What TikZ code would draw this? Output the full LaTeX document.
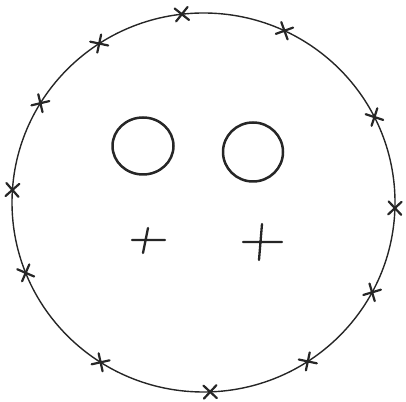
\documentclass[tikz,border=0pt]{standalone}
\begin{document}
\begin{tikzpicture}[x=1pt,y=1pt,
  rim/.style={draw=black!85, line width=1.4pt},
  eye/.style={draw=black!85, line width=2.5pt},
  xmark/.style={draw=black!85, line width=2.2pt, line cap=round},
  plusmark/.style={draw=black!85, line width=2.3pt, line cap=round}]
\useasboundingbox (0,0) rectangle (406,401);
\coordinate (c) at (203.5,198.5);
\draw[rim] (c) ellipse [x radius=191.5, y radius=189.5];
\foreach \a in {96.5,65,123,148.4,26.8,176.2,-1.7,201.8,-28.3,237.5,-57,-88}{
  \begin{scope}[shift={(c)}]
  \begin{scope}[shift={(\a:191.5 and 189.5)}, rotate=\a]
    \draw[xmark] (-6.5,-6.5) -- (6.5,6.5) (-6.5,6.5) -- (6.5,-6.5);
  \end{scope}
  \end{scope}
}
\coordinate (le) at (143,255);
\coordinate (re) at (253,249);
\draw[eye] (le) ellipse [x radius=30.5, y radius=28.5];
\draw[eye] (re) ellipse [x radius=30, y radius=29.5];
\coordinate (lh1) at (132,161); \coordinate (lh2) at (165,161);
\coordinate (lv1) at (148,173); \coordinate (lv2) at (143,148);
\coordinate (rh1) at (243,159); \coordinate (rh2) at (282,159);
\coordinate (rv1) at (262,177); \coordinate (rv2) at (259,141);
\draw[plusmark] (lh1) -- (lh2) (lv1) -- (lv2);
\draw[plusmark] (rh1) -- (rh2) (rv1) -- (rv2);
\end{tikzpicture}
\end{document}
